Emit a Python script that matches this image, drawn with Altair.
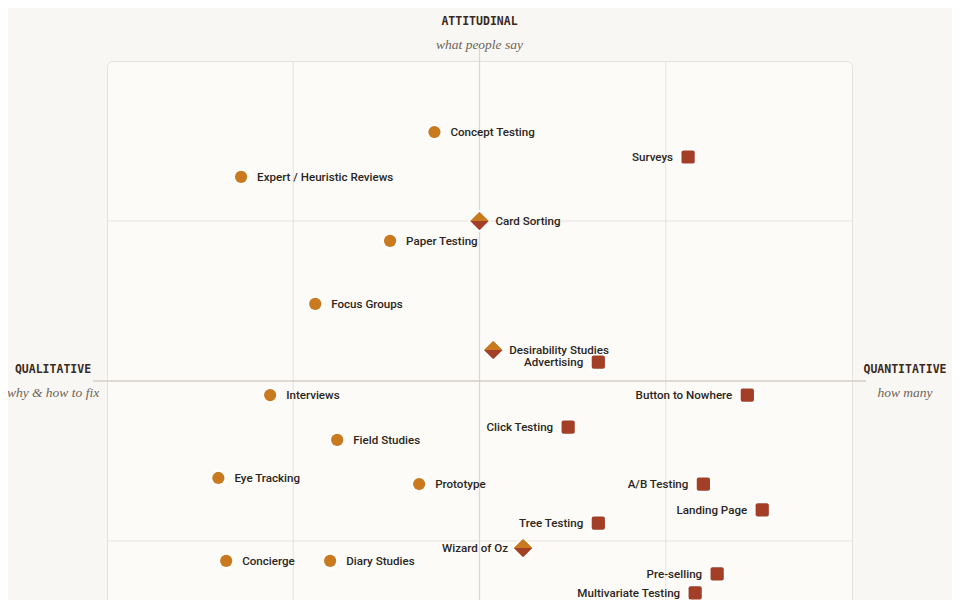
import altair as alt
import pandas as pd

# ---- data (x: qualitative -1 .. quantitative +1, y: behavioral -1 .. attitudinal +1)
names = [
    "Concept Testing", "Expert / Heuristic Reviews", "Paper Testing", "Focus Groups",
    "Interviews", "Field Studies", "Eye Tracking", "Prototype", "Concierge", "Diary Studies",
    "Card Sorting", "Desirability Studies", "Wizard of Oz",
    "Surveys", "Advertising", "Button to Nowhere", "Click Testing", "A/B Testing",
    "Tree Testing", "Landing Page", "Pre-selling", "Multivariate Testing",
]
x_vals = [
    -0.121, -0.640, -0.240, -0.441,
    -0.562, -0.382, -0.701, -0.162, -0.680, -0.401,
    0.0, 0.037, 0.117,
    0.560, 0.319, 0.719, 0.238, 0.601,
    0.319, 0.759, 0.638, 0.579,
]
y_vals = [
    0.778, 0.638, 0.438, 0.241,
    -0.044, -0.184, -0.303, -0.322, -0.562, -0.562,
    0.500, 0.097, -0.522,
    0.700, 0.059, -0.044, -0.144, -0.322,
    -0.444, -0.403, -0.603, -0.662,
]
kinds = (["qual"] * 10) + (["mixed"] * 3) + (["quant"] * 9)

df = pd.DataFrame({"name": names, "x": x_vals, "y": y_vals, "kind": kinds})
df["side"] = ["left" if (k == "quant" or xv > 0.1) else "right" for k, xv in zip(kinds, x_vals)]

grid_x = [-0.5, 0.5]
grid_y = [-0.5, 0.5]

W, H = 745, 640
ORANGE = "#c97a1f"
RUST = "#a33f27"
INK = "#2b2622"

xs = alt.Scale(domain=[-1, 1], nice=False, zero=False)
ys = alt.Scale(domain=[-1, 1], nice=False, zero=False)
X = alt.X("x:Q", scale=xs, axis=None)
Y = alt.Y("y:Q", scale=ys, axis=None)

rsq = "M-0.7,-1 H0.7 Q1,-1 1,-0.7 V0.7 Q1,1 0.7,1 H-0.7 Q-1,1 -1,0.7 V-0.7 Q-1,-1 -0.7,-1 Z"
diamond = "M-0.08,-0.92 Q0,-1 0.08,-0.92 L0.92,-0.08 Q1,0 0.92,0.08 L0.08,0.92 Q0,1 -0.08,0.92 L-0.92,0.08 Q-1,0 -0.92,-0.08 Z"
dtop = "M-0.92,0 L-0.08,-0.84 Q0,-0.92 0.08,-0.84 L0.92,0 Z"
dbot = "M-0.92,0 L-0.08,0.84 Q0,0.92 0.08,0.84 L0.92,0 Z"

base = alt.Chart(df)

vgrid = alt.Chart(pd.DataFrame({"x": grid_x})).mark_rule(color="#e7e2db", strokeWidth=1).encode(
    x=alt.X("x:Q", scale=xs, axis=None))
hgrid = alt.Chart(pd.DataFrame({"y": grid_y})).mark_rule(color="#e7e2db", strokeWidth=1).encode(
    y=alt.Y("y:Q", scale=ys, axis=None))

vcenter = alt.Chart(pd.DataFrame({"x": [0.0]})).mark_rule(color="#dcd6ce", strokeWidth=1.2).encode(
    x=alt.X("x:Q", scale=xs, axis=None), y=alt.value(-12), y2=alt.value(H))
hcenter = alt.Chart(pd.DataFrame({"y": [0.0]})).mark_rule(color="#d4cec6", strokeWidth=1.6).encode(
    y=alt.Y("y:Q", scale=ys, axis=None), x=alt.value(-14), x2=alt.value(W + 14))

qual = base.transform_filter("datum.kind == 'qual'")
quant = base.transform_filter("datum.kind == 'quant'")
mixed = base.transform_filter("datum.kind == 'mixed'")

halo_c = qual.mark_point(shape="circle", filled=True, color="#ffffff", opacity=0.9, size=290).encode(x=X, y=Y)
dot_c = qual.mark_point(shape="circle", filled=True, color=ORANGE, opacity=1, size=150).encode(x=X, y=Y)
halo_s = quant.mark_point(shape=rsq, filled=True, color="#ffffff", opacity=0.9, size=300).encode(x=X, y=Y)
dot_s = quant.mark_point(shape=rsq, filled=True, color=RUST, opacity=1, size=175).encode(x=X, y=Y)
halo_d = mixed.mark_point(shape=diamond, filled=True, color="#ffffff", opacity=0.9, size=540).encode(x=X, y=Y)
dtop_m = mixed.mark_point(shape=dtop, filled=True, color=ORANGE, opacity=1, size=410).encode(x=X, y=Y)
dbot_m = mixed.mark_point(shape=dbot, filled=True, color=RUST, opacity=1, size=410).encode(x=X, y=Y)

lab_r = base.transform_filter("datum.side == 'right'").mark_text(
    align="left", baseline="middle", dx=16, dy=1, font="Roboto", fontSize=11.6, fontWeight=500, color=INK
).encode(x=X, y=Y, text="name:N")
lab_l = base.transform_filter("datum.side == 'left'").mark_text(
    align="right", baseline="middle", dx=-15, dy=1, font="Roboto", fontSize=11.6, fontWeight=500, color=INK
).encode(x=X, y=Y, text="name:N")

ann_df = pd.DataFrame({
    "t": ["ATTITUDINAL", "QUALITATIVE", "QUANTITATIVE"],
    "s": ["what people say", "why & how to fix", "how many"],
    "px": [W / 2, -54, W + 53],
    "py": [-39, 309, 309],
})
ann1 = alt.Chart(ann_df).mark_text(
    align="center", baseline="middle", font="DejaVu Sans Mono", fontSize=11.5, fontWeight="bold",
    color="#3a2a1f"
).encode(x=alt.X("px:Q", scale=None, axis=None), y=alt.Y("py:Q", scale=None, axis=None), text="t:N")
ann2 = alt.Chart(ann_df).mark_text(
    align="center", baseline="middle", font="Liberation Serif", fontSize=13.5, fontStyle="italic",
    color="#6d645b", dy=23
).encode(x=alt.X("px:Q", scale=None, axis=None), y=alt.Y("py:Q", scale=None, axis=None), text="s:N")

chart = alt.layer(
    vgrid, hgrid, vcenter, hcenter,
    halo_c, halo_s, halo_d,
    dot_c, dot_s, dtop_m, dbot_m,
    lab_r, lab_l, ann1, ann2,
).properties(
    width=W, height=H,
    background="#f9f7f3",
    padding={"left": 99, "top": 53, "right": 100, "bottom": 20},
    autosize=alt.AutoSizeParams(type="none"),
).configure_view(
    fill="#fcfbf8", stroke="#e6e1d9", strokeWidth=1, cornerRadius=6
)

chart.save("out.html", embed_options={"renderer": "svg", "actions": False})
